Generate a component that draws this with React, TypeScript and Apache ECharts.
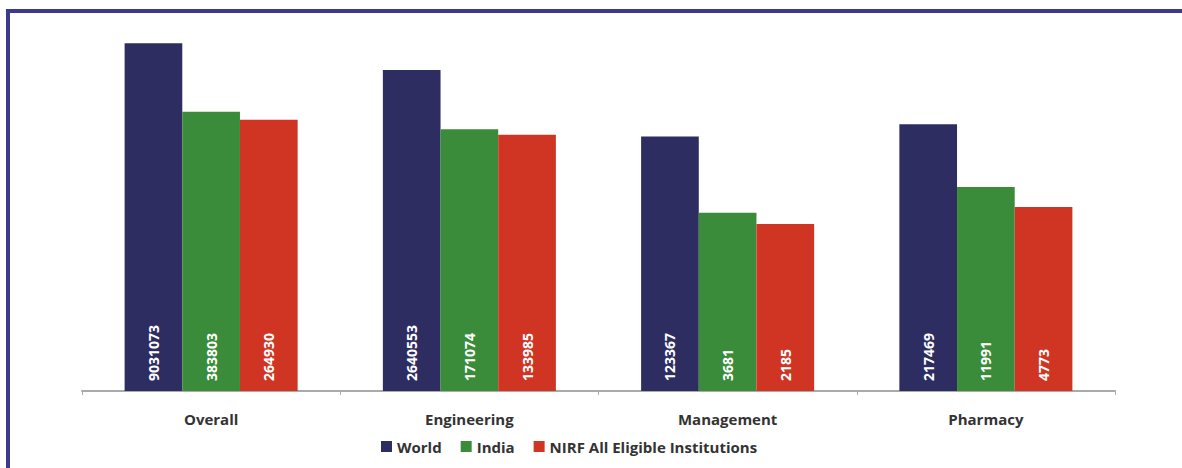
import React, { useEffect, useRef } from "react";
import * as echarts from "echarts";

const categories = ["Overall", "Engineering", "Management", "Pharmacy"];
const seriesNames = ["World", "India", "NIRF All Eligible Institutions"];
const worldValues = [9031073, 2640553, 123367, 217469];
const indiaValues = [383803, 171074, 3681, 11991];
const nirfValues = [264930, 133985, 2185, 4773];
const colors = ["#2e2d62", "#3a8c3a", "#d03524"];

export default function App() {
  const ref = useRef<HTMLDivElement>(null);
  useEffect(() => {
    document.body.style.margin = "0";
    const chart = echarts.init(ref.current!, null, { renderer: "svg" });
    const font = "'Open Sans', 'Noto Sans', sans-serif";
    const data = [worldValues, indiaValues, nirfValues];
    chart.setOption({
      animation: false,
      textStyle: { fontFamily: font },
      grid: { left: 82, right: 67, top: 41, bottom: 77, containLabel: false },
      legend: {
        bottom: 9,
        left: 376,
        itemWidth: 11,
        itemHeight: 11,
        itemGap: 19,
        itemTextGap: 5,
        icon: "rect",
        textStyle: { fontSize: 15, fontWeight: "bold", color: "#333", fontFamily: font },
        data: seriesNames,
      },
      xAxis: {
        type: "category",
        data: categories,
        axisLine: { lineStyle: { color: "#aaaaaa", width: 2 } },
        axisTick: { show: true, length: 4, lineStyle: { color: "#aaaaaa" } },
        axisLabel: { fontSize: 15, fontWeight: "bold", color: "#333", margin: 20, fontFamily: font },
      },
      yAxis: {
        type: "log",
        min: 1,
        max: 10000000,
        show: false,
        splitLine: { show: false },
      },
      series: seriesNames.map((name, i) => ({
        name,
        type: "bar",
        data: data[i],
        barGap: "0%",
        barCategoryGap: "33%",
        itemStyle: { color: colors[i] },
        label: {
          show: true,
          position: "insideBottom",
          rotate: 90,
          align: "left",
          verticalAlign: "middle",
          distance: 10,
          color: "#fff",
          fontSize: 14,
          fontWeight: "bold",
          fontFamily: font,
        },
      })),
      graphic: [
        { type: "rect", shape: { x: 6, y: 9, width: 4, height: 459 }, style: { fill: "#3d3a8c" } },
        { type: "rect", shape: { x: 6, y: 9, width: 1176, height: 4 }, style: { fill: "#3d3a8c" } },
      ],
    });
    return () => chart.dispose();
  }, []);
  return <div ref={ref} style={{ width: 1182, height: 468 }} />;
}
